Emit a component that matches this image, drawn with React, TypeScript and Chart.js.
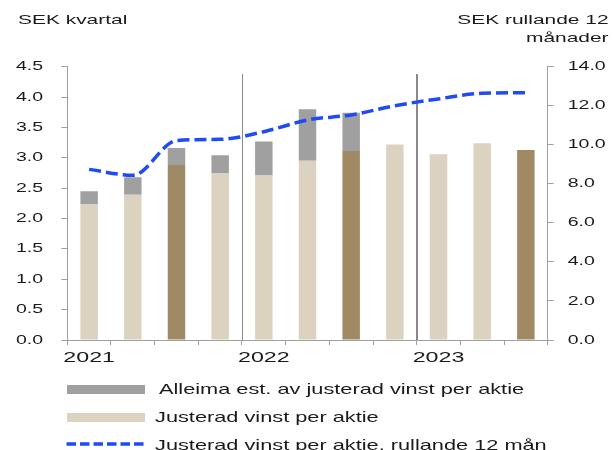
import React, { useEffect, useRef } from 'react';
import { Chart, registerables } from 'chart.js';

Chart.register(...registerables);

// ---- Data ----
const QUARTERS = [
  '2021 Q1', '2021 Q2', '2021 Q3', '2021 Q4',
  '2022 Q1', '2022 Q2', '2022 Q3', '2022 Q4',
  '2023 Q1', '2023 Q2', '2023 Q3',
];
const EPS_ADJUSTED = [2.24, 2.39, 2.88, 2.74, 2.71, 2.95, 3.11, 3.22, 3.06, 3.24, 3.13];
const ALLEIMA_EST_PART = [0.21, 0.29, 0.28, 0.30, 0.56, 0.85, 0.63, null, null, null, null];
const EPS_ROLLING_12M = [8.74, 8.44, 10.21, 10.28, 10.67, 11.27, 11.53, 12.0, 12.35, 12.64, 12.67];
const HIGHLIGHTED_QUARTERS = ['2021 Q3', '2022 Q3', '2023 Q3'];
const YEAR_BREAKS = [3.5, 7.5];
const YEAR_BREAK_TOP = 4.38;

const LEGEND_LABELS = [
  'Alleima est. av justerad vinst per aktie',
  'Justerad vinst per aktie',
  'Justerad vinst per aktie, rullande 12 mån',
];
const LEFT_TITLE = 'SEK kvartal';
const RIGHT_TITLE = ['SEK rullande 12', 'månader'];

// ---- Styles ----
const FONT = '"Liberation Sans", Arial, sans-serif';
const TEXT = '#1a1a1a';
const AXIS = '#a0a0a0';
const GREY = '#a0a0a0';
const BEIGE = '#dbd3c0';
const BROWN = '#a08a65';
const BLUE = '#1f4bf2';
const SX = 1.5;

function patchText(ctx: any) {
  if (ctx.__sxPatched) return;
  ctx.__sxPatched = true;
  const origFill = ctx.fillText;
  const origMeasure = ctx.measureText;
  ctx.fillText = function (text: string, x: number, y: number) {
    this.save();
    this.translate(x, y);
    this.scale(SX, 1);
    origFill.call(this, text, 0, 0);
    this.restore();
  };
  ctx.measureText = function (text: string) {
    const m = origMeasure.call(this, text);
    return {
      width: m.width * SX,
      actualBoundingBoxLeft: m.actualBoundingBoxLeft * SX,
      actualBoundingBoxRight: m.actualBoundingBoxRight * SX,
      actualBoundingBoxAscent: m.actualBoundingBoxAscent,
      actualBoundingBoxDescent: m.actualBoundingBoxDescent,
      fontBoundingBoxAscent: m.fontBoundingBoxAscent,
      fontBoundingBoxDescent: m.fontBoundingBoxDescent,
    };
  };
}

const yearBreakPlugin = {
  id: 'yearBreaks',
  beforeDatasetsDraw(chart: any) {
    const { ctx, scales } = chart;
    const x = scales.x;
    const y = scales.y;
    YEAR_BREAKS.forEach((pos, i) => {
      const px = Math.round(x.getPixelForValue(pos)) + (i === 0 ? 0.5 : 0);
      ctx.save();
      ctx.strokeStyle = '#8a8a8a';
      ctx.lineWidth = i === 0 ? 1 : 2;
      ctx.beginPath();
      ctx.moveTo(px, y.getPixelForValue(YEAR_BREAK_TOP));
      ctx.lineTo(px, y.getPixelForValue(0));
      ctx.stroke();
      ctx.restore();
    });
  },
};

export default function App() {
  const canvasRef = useRef<HTMLCanvasElement>(null);

  useEffect(() => {
    const canvas = canvasRef.current!;
    const ctx = canvas.getContext('2d')!;
    patchText(ctx);

    const chart = new Chart(ctx, {
      type: 'bar',
      data: {
        labels: QUARTERS,
        datasets: [
          {
            type: 'line',
            label: LEGEND_LABELS[2],
            data: EPS_ROLLING_12M,
            yAxisID: 'y1',
            borderColor: BLUE,
            backgroundColor: BLUE,
            borderWidth: 3.5,
            borderDash: [12, 5],
            cubicInterpolationMode: 'monotone',
            pointRadius: 0,
            pointHoverRadius: 0,
            fill: false,
            order: 0,
          } as any,
          {
            type: 'bar',
            label: LEGEND_LABELS[1],
            data: EPS_ADJUSTED,
            yAxisID: 'y',
            backgroundColor: QUARTERS.map((q) => (HIGHLIGHTED_QUARTERS.includes(q) ? BROWN : BEIGE)),
            borderWidth: 0,
            barPercentage: 0.4,
            categoryPercentage: 1,
            stack: 'eps',
            order: 1,
          },
          {
            type: 'bar',
            label: LEGEND_LABELS[0],
            data: ALLEIMA_EST_PART,
            yAxisID: 'y',
            backgroundColor: GREY,
            borderWidth: 0,
            barPercentage: 0.4,
            categoryPercentage: 1,
            stack: 'eps',
            order: 2,
          },
        ],
      },
      options: {
        responsive: false,
        animation: false,
        events: [],
        layout: { padding: { left: 16, top: 66.7, right: 0, bottom: 0 } },
        plugins: {
          legend: { display: false },
          tooltip: { enabled: false },
          title: { display: false },
        },
        scales: {
          x: {
            stacked: true,
            offset: true,
            grid: {
              display: true,
              drawOnChartArea: false,
              drawTicks: true,
              tickLength: 5,
              offset: true,
              color: AXIS,
            },
            border: { display: true, color: AXIS, width: 1 },
            ticks: {
              autoSkip: false,
              maxRotation: 0,
              minRotation: 0,
              padding: 3,
              color: TEXT,
              font: { family: FONT, size: 15.5 },
              callback: (_v: any, i: number) =>
                QUARTERS[i].endsWith('Q1') ? QUARTERS[i].slice(0, 4) : '',
            },
            afterFit: (s: any) => {
              s.height = 110;
            },
          },
          y: {
            position: 'left',
            stacked: true,
            min: 0,
            max: 4.5,
            grid: {
              display: true,
              drawOnChartArea: false,
              drawTicks: true,
              tickLength: 6,
              color: AXIS,
            },
            border: { display: true, color: AXIS, width: 1 },
            ticks: {
              stepSize: 0.5,
              crossAlign: 'far',
              color: TEXT,
              font: { family: FONT, size: 13 },
              callback: (v: any) => Number(v).toFixed(1),
            },
            afterFit: (s: any) => {
              s.width = 51.3;
            },
          },
          y1: {
            position: 'right',
            min: 0,
            max: 14,
            grid: {
              display: true,
              drawOnChartArea: false,
              drawTicks: true,
              tickLength: 6,
              color: AXIS,
            },
            border: { display: true, color: AXIS, width: 1 },
            ticks: {
              stepSize: 2,
              padding: 14,
              crossAlign: 'near',
              color: TEXT,
              font: { family: FONT, size: 13 },
              callback: (v: any) => Number(v).toFixed(1),
            },
            afterFit: (s: any) => {
              s.width = 65.3;
            },
          },
        },
      } as any,
      plugins: [yearBreakPlugin],
    });

    return () => chart.destroy();
  }, []);

  const titleStyle: React.CSSProperties = {
    position: 'absolute',
    fontFamily: FONT,
    fontSize: '13.5px',
    lineHeight: '17.5px',
    color: TEXT,
    whiteSpace: 'nowrap',
  };
  const legendText: React.CSSProperties = {
    position: 'absolute',
    fontFamily: FONT,
    fontSize: '15px',
    lineHeight: '15px',
    color: TEXT,
    whiteSpace: 'nowrap',
    transform: 'scaleX(1.45)',
    transformOrigin: '0 0',
  };

  return (
    <div
      style={{
        position: 'fixed',
        left: 0,
        top: 0,
        width: 613,
        height: 450,
        overflow: 'hidden',
        background: '#fff',
      }}
    >
      <canvas
        ref={canvasRef}
        width={613}
        height={450}
        style={{ position: 'absolute', left: 0, top: 0, width: 613, height: 450 }}
      />
      <div
        style={{
          ...titleStyle,
          left: 18.3,
          top: 11.1,
          transform: 'scaleX(1.55)',
          transformOrigin: '0 0',
        }}
      >
        {LEFT_TITLE}
      </div>
      <div
        style={{
          ...titleStyle,
          right: 4,
          top: 11.1,
          textAlign: 'right',
          transform: 'scaleX(1.55)',
          transformOrigin: '100% 0',
        }}
      >
        {RIGHT_TITLE[0]}
        <br />
        {RIGHT_TITLE[1]}
      </div>

      {/* Legend */}
      <div style={{ position: 'absolute', left: 66.7, top: 385, width: 78.3, height: 9, background: GREY }} />
      <div style={{ ...legendText, left: 159, top: 380.6 }}>{LEGEND_LABELS[0]}</div>

      <div style={{ position: 'absolute', left: 66.7, top: 412.7, width: 78.3, height: 9, background: BEIGE }} />
      <div style={{ ...legendText, left: 154.5, top: 409 }}>{LEGEND_LABELS[1]}</div>

      <svg
        width={82}
        height={8}
        style={{ position: 'absolute', left: 65.5, top: 440 }}
      >
        <line x1={0.5} y1={4} x2={81} y2={4} stroke={BLUE} strokeWidth={3.3} strokeDasharray="9.5 4" />
      </svg>
      <div style={{ ...legendText, left: 154.5, top: 437.3 }}>{LEGEND_LABELS[2]}</div>
    </div>
  );
}
